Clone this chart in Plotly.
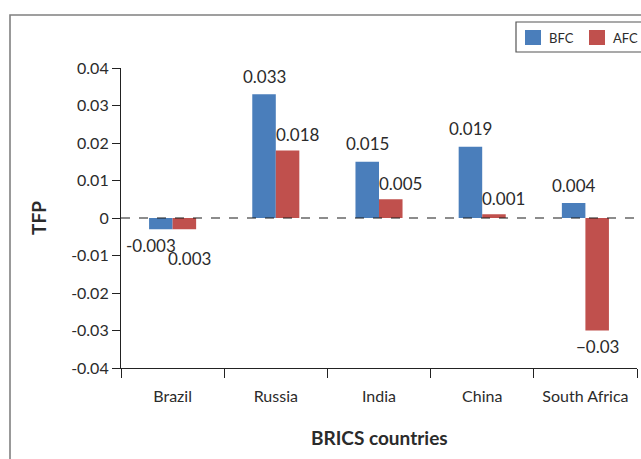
import plotly.graph_objects as go

# BRICS total factor productivity before / after the financial crisis
countries = ["Brazil", "Russia", "India", "China", "South Africa"]
bfc = [-0.003, 0.033, 0.015, 0.019, 0.004]
afc = [-0.003, 0.018, 0.005, 0.001, -0.03]
bfc_text = ["-0.003", "0.033", "0.015", "0.019", "0.004"]
afc_text = ["0.003", "0.018", "0.005", "0.001", "\u22120.03"]
y_ticks = [0.04, 0.03, 0.02, 0.01, 0, -0.01, -0.02, -0.03, -0.04]
y_tick_text = ["0.04", "0.03", "0.02", "0.01", "0", "-0.01", "-0.02", "-0.03", "-0.04"]

BLUE = "#4a7ebb"
RED = "#c0504d"
FONT = "Lato, 'Open Sans', sans-serif"
TXT = "#2b2b2b"

W, H = 641, 459
L, R, T, B = 121, 4, 68, 91
pw, ph = W - L - R, H - T - B


def px_x(x):
    """Pixel column -> paper x."""
    return (x - L) / pw


def px_y(y):
    """Pixel row -> paper y."""
    return (H - y - B) / ph


fig = go.Figure()
fig.add_trace(go.Bar(x=countries, y=bfc, name="BFC", marker_color=BLUE, marker_line_width=0))
fig.add_trace(go.Bar(x=countries, y=afc, name="AFC", marker_color=RED, marker_line_width=0))

# value labels
bar_px = 23.5
LABEL_FONT = dict(family=FONT, size=17, color=TXT)
annotations = []
for i, c in enumerate(countries):
    v = bfc[i]
    dx = -10 if c == "Brazil" else 0
    annotations.append(dict(
        x=c, y=v, xref="x", yref="y", text=bfc_text[i], showarrow=False,
        xanchor="center", yanchor="middle", xshift=-bar_px / 2 + dx,
        yshift=18 if v >= 0 else -16, font=LABEL_FONT))
    v = afc[i]
    if c == "Brazil":
        ann = dict(xanchor="left", xshift=-7, yshift=-29)
    elif v < 0:
        ann = dict(xanchor="center", xshift=bar_px / 2, yshift=-16)
    else:
        ann = dict(xanchor="left", xshift=-2, yshift=16)
    annotations.append(dict(
        x=c, y=v, xref="x", yref="y", text=afc_text[i], showarrow=False,
        yanchor="middle", font=LABEL_FONT, **ann))

# axis titles
annotations.append(dict(x=0.5, y=px_y(437), xref="paper", yref="paper",
                        text="<b>BRICS countries</b>", showarrow=False,
                        xanchor="center", yanchor="middle",
                        font=dict(family=FONT, size=19, color=TXT)))
annotations.append(dict(x=px_x(38), y=px_y(218), xref="paper", yref="paper",
                        text="<b>TFP</b>", showarrow=False, textangle=-90,
                        xanchor="center", yanchor="middle",
                        font=dict(family=FONT, size=19, color=TXT)))

shapes = [
    # zero reference line
    dict(type="line", xref="paper", yref="y", x0=0, x1=1, y0=0, y1=0,
         line=dict(color="#1a1a1a", width=1.2, dash="dash")),
    # outer chart frame
    dict(type="rect", xref="paper", yref="paper",
         x0=px_x(10), x1=px_x(W + 20), y0=px_y(H + 20), y1=px_y(15),
         line=dict(color="#808080", width=1.6), fillcolor="rgba(0,0,0,0)", layer="below"),
    # legend box
    dict(type="rect", xref="paper", yref="paper",
         x0=px_x(516), x1=px_x(W + 20), y0=px_y(52), y1=px_y(22),
         line=dict(color="#555555", width=1.2), fillcolor="white"),
]

# legend entries, one per trace
legend_x = [525, 589]
for tr, lx in zip(fig.data, legend_x):
    shapes.append(dict(type="rect", xref="paper", yref="paper",
                       x0=px_x(lx), x1=px_x(lx + 16), y0=px_y(45), y1=px_y(30),
                       line=dict(width=0), fillcolor=tr.marker.color))
    annotations.append(dict(x=px_x(lx + 22), y=px_y(37.5), xref="paper", yref="paper",
                            text=tr.name, showarrow=False, xanchor="left", yanchor="middle",
                            font=dict(family=FONT, size=13, color=TXT)))

fig.update_layout(
    width=W, height=H,
    margin=dict(l=L, r=R, t=T, b=B, autoexpand=False),
    paper_bgcolor="white", plot_bgcolor="white",
    barmode="group", bargap=0.544, bargroupgap=0,
    font=dict(family=FONT, size=16, color=TXT),
    showlegend=False,
    annotations=annotations,
    shapes=shapes,
    xaxis=dict(showline=True, linecolor="#222222", linewidth=1.2,
               ticks="outside", tickson="boundaries", ticklen=9, tickcolor="#222222",
               tickfont=dict(family=FONT, size=16, color=TXT), tickangle=0,
               ticklabelstandoff=14,
               showgrid=False, zeroline=False, automargin=False),
    yaxis=dict(range=[-0.04, 0.04], tickvals=y_ticks, ticktext=y_tick_text,
               showline=True, linecolor="#222222", linewidth=1.2,
               ticks="outside", ticklen=8, tickcolor="#222222",
               tickfont=dict(family=FONT, size=16, color=TXT),
               showgrid=False, zeroline=False, automargin=False),
)

fig.write_html("out.html")
